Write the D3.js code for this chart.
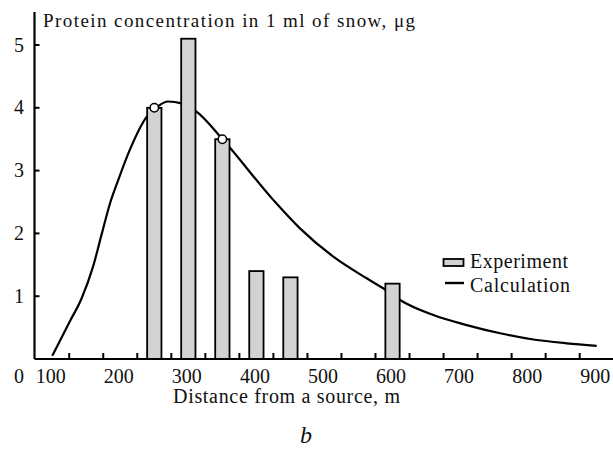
<!DOCTYPE html>
<html>
<head>
<meta charset="utf-8">
<script src="https://cdn.jsdelivr.net/npm/d3@7"></script>
<style>
  body { margin: 0; background: #fff; }
  text { font-family: "Liberation Serif", "DejaVu Serif", serif; fill: #111; }
</style>
</head>
<body>
<div id="chart"></div>
<script>
let svgWidth = 613;
let svgHeight = 450;

// Experiment bars (distance, m / protein, ug)
let barDistances = [250, 300, 350, 400, 450, 600];
let barValues = [4.0, 5.1, 3.5, 1.4, 1.3, 1.2];

// points marked on the calculated curve
let markDistances = [250, 350];
let markValues = [4.0, 3.5];

// Calculation curve
let curveDistances = [100, 126, 143, 160, 173, 185, 197, 214, 239, 255, 270, 290, 312, 351, 425, 464, 513, 562, 590, 611, 660, 709, 758, 807, 856, 900];
let curveValues = [0.05, 0.60, 0.96, 1.47, 2.0, 2.48, 2.85, 3.33, 3.86, 4.02, 4.10, 4.07, 3.94, 3.49, 2.53, 2.08, 1.63, 1.285, 1.10, 0.94, 0.70, 0.54, 0.41, 0.31, 0.25, 0.21];

let xLabels = [100, 200, 300, 400, 500, 600, 700, 800, 900];
let xMinorTicks = [125, 175, 225, 275, 325, 375, 425, 475, 525, 575, 625, 675, 725, 775, 825, 875];
let yLabels = [1, 2, 3, 4, 5];

let svg = d3.select("#chart")
  .append("svg")
  .attr("width", svgWidth)
  .attr("height", svgHeight);

let xScale = d3.scaleLinear()
  .domain([100, 900])
  .range([52.2, 596.7]);

let yScale = d3.scaleLinear()
  .domain([0, 5])
  .range([359, 45]);

let axisX0 = 34.5;
let barFill = "#d2d2d2";

// calculation curve
let line = d3.line()
  .x((d, i) => xScale(curveDistances[i]))
  .y(d => yScale(d))
  .curve(d3.curveMonotoneX);

svg.append("path")
  .datum(curveValues)
  .attr("d", line)
  .attr("fill", "none")
  .attr("stroke", "#000")
  .attr("stroke-width", 2.2);

// bars
let halfW = 10.5;
svg.selectAll(".bar")
  .data(barValues)
  .enter()
  .append("rect")
  .attr("class", "bar")
  .attr("x", (d, i) => xScale(barDistances[i] - halfW))
  .attr("width", (d, i) => xScale(barDistances[i] + halfW) - xScale(barDistances[i] - halfW))
  .attr("y", d => yScale(d))
  .attr("height", d => yScale(0) - yScale(d))
  .attr("fill", barFill)
  .attr("stroke", "#000")
  .attr("stroke-width", 1.8);

// circles
svg.selectAll(".mark")
  .data(markValues)
  .enter()
  .append("circle")
  .attr("cx", (d, i) => xScale(markDistances[i]))
  .attr("cy", d => yScale(d))
  .attr("r", 4.2)
  .attr("fill", "#fff")
  .attr("stroke", "#000")
  .attr("stroke-width", 1.5);

// x axis: line, inward ticks, labels
svg.append("g")
  .selectAll("line")
  .data(xMinorTicks)
  .enter()
  .append("line")
  .attr("x1", d => xScale(d)).attr("x2", d => xScale(d))
  .attr("y1", yScale(0)).attr("y2", yScale(0) - 6)
  .attr("stroke", "#000").attr("stroke-width", 2);

svg.append("line")
  .attr("x1", axisX0).attr("x2", 613)
  .attr("y1", yScale(0)).attr("y2", yScale(0))
  .attr("stroke", "#000").attr("stroke-width", 2.2);

svg.append("g")
  .selectAll("text")
  .data(xLabels)
  .enter()
  .append("text")
  .attr("x", d => xScale(d) - 1.5)
  .attr("y", yScale(0) + 24)
  .attr("text-anchor", "middle")
  .attr("font-size", "20px")
  .text(d => d);

// y axis
svg.append("g")
  .selectAll("line")
  .data(yLabels)
  .enter()
  .append("line")
  .attr("x1", axisX0).attr("x2", axisX0 + 5)
  .attr("y1", d => yScale(d)).attr("y2", d => yScale(d))
  .attr("stroke", "#000").attr("stroke-width", 2);

svg.append("line")
  .attr("x1", axisX0).attr("x2", axisX0)
  .attr("y1", 12).attr("y2", yScale(0))
  .attr("stroke", "#000").attr("stroke-width", 2.2);

svg.append("g")
  .selectAll("text")
  .data(yLabels)
  .enter()
  .append("text")
  .attr("x", 24)
  .attr("y", d => yScale(d) + 6.5)
  .attr("text-anchor", "end")
  .attr("font-size", "20px")
  .text(d => d);

svg.append("text")
  .attr("x", 24)
  .attr("y", yScale(0) + 24)
  .attr("text-anchor", "end")
  .attr("font-size", "20px")
  .text("0");

// titles
svg.append("text")
  .attr("x", 43)
  .attr("y", 27)
  .attr("font-size", "19px")
  .attr("textLength", 372)
  .attr("lengthAdjust", "spacing")
  .text("Protein concentration in 1 ml of snow, \u03bcg");

svg.append("text")
  .attr("x", 173)
  .attr("y", 403)
  .attr("font-size", "20px")
  .attr("textLength", 227)
  .attr("lengthAdjust", "spacing")
  .text("Distance from a source, m");

svg.append("text")
  .attr("x", 306)
  .attr("y", 443)
  .attr("text-anchor", "middle")
  .attr("font-size", "24px")
  .attr("font-style", "italic")
  .text("b");

// legend
let legend = svg.append("g");
legend.append("rect")
  .attr("x", 443.5).attr("y", 259)
  .attr("width", 20).attr("height", 7)
  .attr("fill", barFill)
  .attr("stroke", "#000")
  .attr("stroke-width", 1.8);
legend.append("text")
  .attr("x", 470).attr("y", 268)
  .attr("font-size", "20px")
  .attr("textLength", 98)
  .attr("lengthAdjust", "spacing")
  .text("Experiment");
legend.append("line")
  .attr("x1", 445).attr("x2", 464)
  .attr("y1", 283).attr("y2", 283)
  .attr("stroke", "#000").attr("stroke-width", 2.4);
legend.append("text")
  .attr("x", 470).attr("y", 292)
  .attr("font-size", "20px")
  .attr("textLength", 100)
  .attr("lengthAdjust", "spacing")
  .text("Calculation");
</script>
</body>
</html>
